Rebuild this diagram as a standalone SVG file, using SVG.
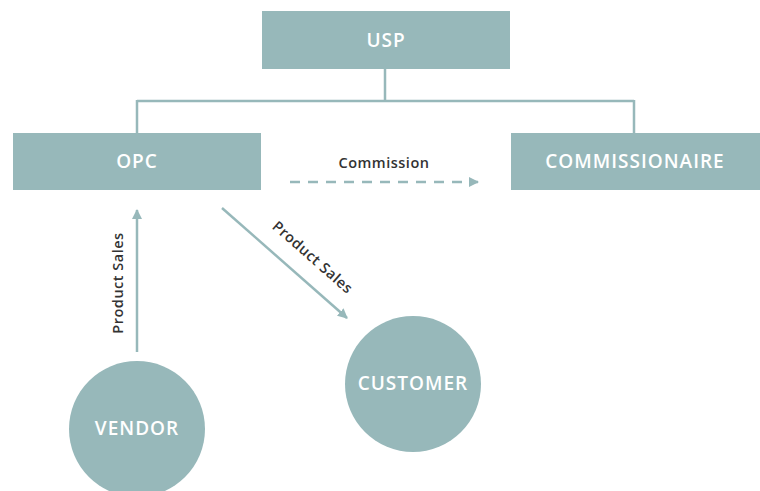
<svg xmlns="http://www.w3.org/2000/svg" width="760" height="491" viewBox="0 0 760 491">
  <style>
    .box { fill: #97b8ba; }
    .lbl { font-family: "Open Sans", "Liberation Sans", sans-serif; font-size: 19px; font-weight: 600; letter-spacing: 1px; fill: #ffffff; text-anchor: middle; dominant-baseline: central; }
    .edge { stroke: #97b8ba; stroke-width: 2.5; fill: none; }
    .elbl { font-family: "Open Sans", "Liberation Sans", sans-serif; font-size: 14.5px; font-weight: 600; letter-spacing: 0.5px; fill: #333333; text-anchor: middle; dominant-baseline: central; }
  </style>
  <defs>
    <marker id="arr" viewBox="0 0 10 10" refX="9" refY="5" markerWidth="4" markerHeight="4" orient="auto" markerUnits="strokeWidth">
      <path d="M0,0 L10,5 L0,10 z" fill="#97b8ba"/>
    </marker>
  </defs>
  <rect width="760" height="491" fill="#ffffff"/>

  <g id="connectors">
    <path class="edge" d="M385,69 V101 M137,101 H634 M137,100 V133 M634,100 V133"/>
    <line class="edge" x1="290" y1="182" x2="478" y2="182" stroke-dasharray="10,8" marker-end="url(#arr)"/>
    <text class="elbl" x="384" y="162">Commission</text>
    <line class="edge" x1="137" y1="352" x2="137" y2="210" marker-end="url(#arr)"/>
    <text class="elbl" transform="translate(117,283) rotate(-90)">Product Sales</text>
    <line class="edge" x1="222" y1="208" x2="347" y2="318" marker-end="url(#arr)"/>
    <text class="elbl" transform="translate(313,257) rotate(41.3)">Product Sales</text>
  </g>

  <g id="usp">
    <rect class="box" x="262" y="11" width="248" height="58"/>
    <text class="lbl" x="386" y="40">USP</text>
  </g>
  <g id="opc">
    <rect class="box" x="13" y="133" width="248" height="57"/>
    <text class="lbl" x="137" y="161">OPC</text>
  </g>
  <g id="commissionaire">
    <rect class="box" x="511" y="133" width="249" height="57"/>
    <text class="lbl" x="635" y="161">COMMISSIONAIRE</text>
  </g>
  <g id="vendor">
    <circle class="box" cx="137" cy="429" r="68"/>
    <text class="lbl" x="137" y="428">VENDOR</text>
  </g>
  <g id="customer">
    <circle class="box" cx="413" cy="384" r="68"/>
    <text class="lbl" x="413" y="383">CUSTOMER</text>
  </g>
</svg>
